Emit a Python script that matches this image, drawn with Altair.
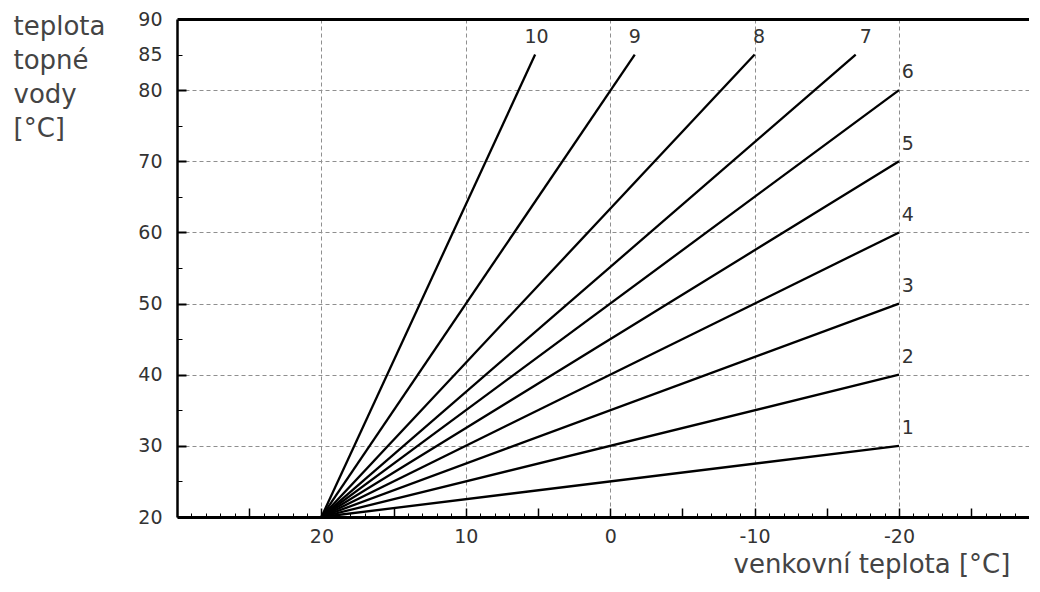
import altair as alt
import pandas as pd

# --- data ---
curve_ids = ["1", "2", "3", "4", "5", "6", "7", "8", "9", "10"]
start_outdoor = [20, 20, 20, 20, 20, 20, 20, 20, 20, 20]
start_water = [20, 20, 20, 20, 20, 20, 20, 20, 20, 20]
end_outdoor = [-20, -20, -20, -20, -20, -20, -17.0, -10.0, -1.7, 5.2]
end_water = [30, 40, 50, 60, 70, 80, 85, 85, 85, 85]
label_outdoor = [-20.6, -20.6, -20.6, -20.6, -20.6, -20.6, -17.7, -10.3, -1.7, 5.1]
label_water = [32.5, 42.5, 52.5, 62.5, 72.5, 82.5, 87.4, 87.4, 87.4, 87.4]

x_label_values = [20, 10, 0, -10, -20]
x_mid_ticks = [25, 20, 15, 10, 5, 0, -5, -10, -15, -20, -25]
x_minor_ticks = list(range(30, -30, -1))
y_label_values = [20, 30, 40, 50, 60, 70, 80, 85, 90]
y_grid_values = [30, 40, 50, 60, 70, 80]
y_major_ticks = [30, 40, 50, 60, 70, 80]
y_minor_ticks = [25, 35, 45, 55, 65, 75, 85]

rows = []
for cid, sx, sy, ex, ey in zip(curve_ids, start_outdoor, start_water, end_outdoor, end_water):
    rows.append({"curve": cid, "outdoor": sx, "water": sy, "order": 0})
    rows.append({"curve": cid, "outdoor": ex, "water": ey, "order": 1})
lines_df = pd.DataFrame(rows)
labels_df = pd.DataFrame({"curve": curve_ids, "outdoor": label_outdoor, "water": label_water})

W, H = 852, 498
FONT = "DejaVu Sans"
xs = alt.Scale(domain=[-29, 30], reverse=True, nice=False, zero=False)
ys = alt.Scale(domain=[20, 90], nice=False, zero=False)
GRID = "#8f8f8f"

base = alt.Chart(lines_df)

lines = base.mark_line(color="black", strokeWidth=2.3).encode(
    x=alt.X("outdoor:Q", scale=xs, axis=alt.Axis(
        orient="bottom", values=x_label_values, grid=True, gridColor=GRID,
        gridDash=[4, 3], gridWidth=1, ticks=False, domain=True, domainColor="black",
        domainWidth=3, labelFont=FONT, labelFontSize=19, labelColor="#333",
        labelPadding=10, labelExpr="'' + datum.value",
        title="venkovní teplota [°C]", titleX=556, titleY=55,
        titleAlign="left", titleBaseline="alphabetic", titleFont=FONT,
        titleFontSize=26, titleFontWeight="normal", titleColor="#444")),
    y=alt.Y("water:Q", scale=ys, axis=alt.Axis(
        orient="left", values=y_label_values, grid=False, ticks=False, domain=True,
        domainColor="black", domainWidth=2.5, labelFont=FONT, labelFontSize=19,
        labelColor="#333", labelPadding=15,
        title=["teplota", "topné", "vody", "[°C]"], titleAngle=0, titleX=-164,
        titleY=15, titleAlign="left", titleBaseline="alphabetic", titleFont=FONT,
        titleFontSize=26, titleFontWeight="normal", titleColor="#444",
        titleLineHeight=34)),
    detail="curve:N",
    order="order:Q",
)

ghost = base.mark_point(opacity=0)

y_grid = ghost.encode(
    x=alt.X("outdoor:Q", scale=xs, axis=None),
    y=alt.Y("water:Q", scale=ys, axis=alt.Axis(
        orient="left", values=y_grid_values, grid=True, gridColor=GRID,
        gridDash=[4, 3], gridWidth=1, labels=False, ticks=False, domain=False,
        title=None)),
)

x_minor = ghost.encode(
    x=alt.X("outdoor:Q", scale=xs, axis=alt.Axis(
        orient="top", offset=-H, values=x_minor_ticks, ticks=True, tickSize=4,
        tickColor="black", tickWidth=1, labels=False, domain=False, grid=False,
        title=None)),
    y=alt.Y("water:Q", scale=ys, axis=None),
)

x_mid = ghost.encode(
    x=alt.X("outdoor:Q", scale=xs, axis=alt.Axis(
        orient="top", offset=-H, values=x_mid_ticks, ticks=True, tickSize=9,
        tickColor="black", tickWidth=1.5, labels=False, domain=False, grid=False,
        title=None)),
    y=alt.Y("water:Q", scale=ys, axis=None),
)

top_border = ghost.encode(
    x=alt.X("outdoor:Q", scale=xs, axis=alt.Axis(
        orient="top", values=[], ticks=False, labels=False, domain=True,
        domainColor="black", domainWidth=3, grid=False, title=None)),
    y=alt.Y("water:Q", scale=ys, axis=None),
)

y_major = ghost.encode(
    x=alt.X("outdoor:Q", scale=xs, axis=None),
    y=alt.Y("water:Q", scale=ys, axis=alt.Axis(
        orient="right", offset=-W, values=y_major_ticks, ticks=True, tickSize=9,
        tickColor="black", tickWidth=2, labels=False, domain=False, grid=False,
        title=None)),
)

y_minor = ghost.encode(
    x=alt.X("outdoor:Q", scale=xs, axis=None),
    y=alt.Y("water:Q", scale=ys, axis=alt.Axis(
        orient="right", offset=-W, values=y_minor_ticks, ticks=True, tickSize=5,
        tickColor="black", tickWidth=1, labels=False, domain=False, grid=False,
        title=None)),
)

labels = alt.Chart(labels_df).mark_text(
    font=FONT, fontSize=19, color="#333", align="center", baseline="middle"
).encode(
    x=alt.X("outdoor:Q", scale=xs, axis=None),
    y=alt.Y("water:Q", scale=ys, axis=None),
    text="curve:N",
)

chart = alt.layer(
    lines, y_grid, x_minor, x_mid, top_border, y_major, y_minor, labels
).resolve_axis(
    x="independent", y="independent"
).properties(
    width=W, height=H,
    autosize=alt.AutoSizeParams(type="none"),
    padding={"left": 169, "top": 11, "right": 0, "bottom": 65},
    background="white",
).configure_view(stroke=None)

chart.save("out.html", embed_options={"renderer": "svg", "actions": False})
